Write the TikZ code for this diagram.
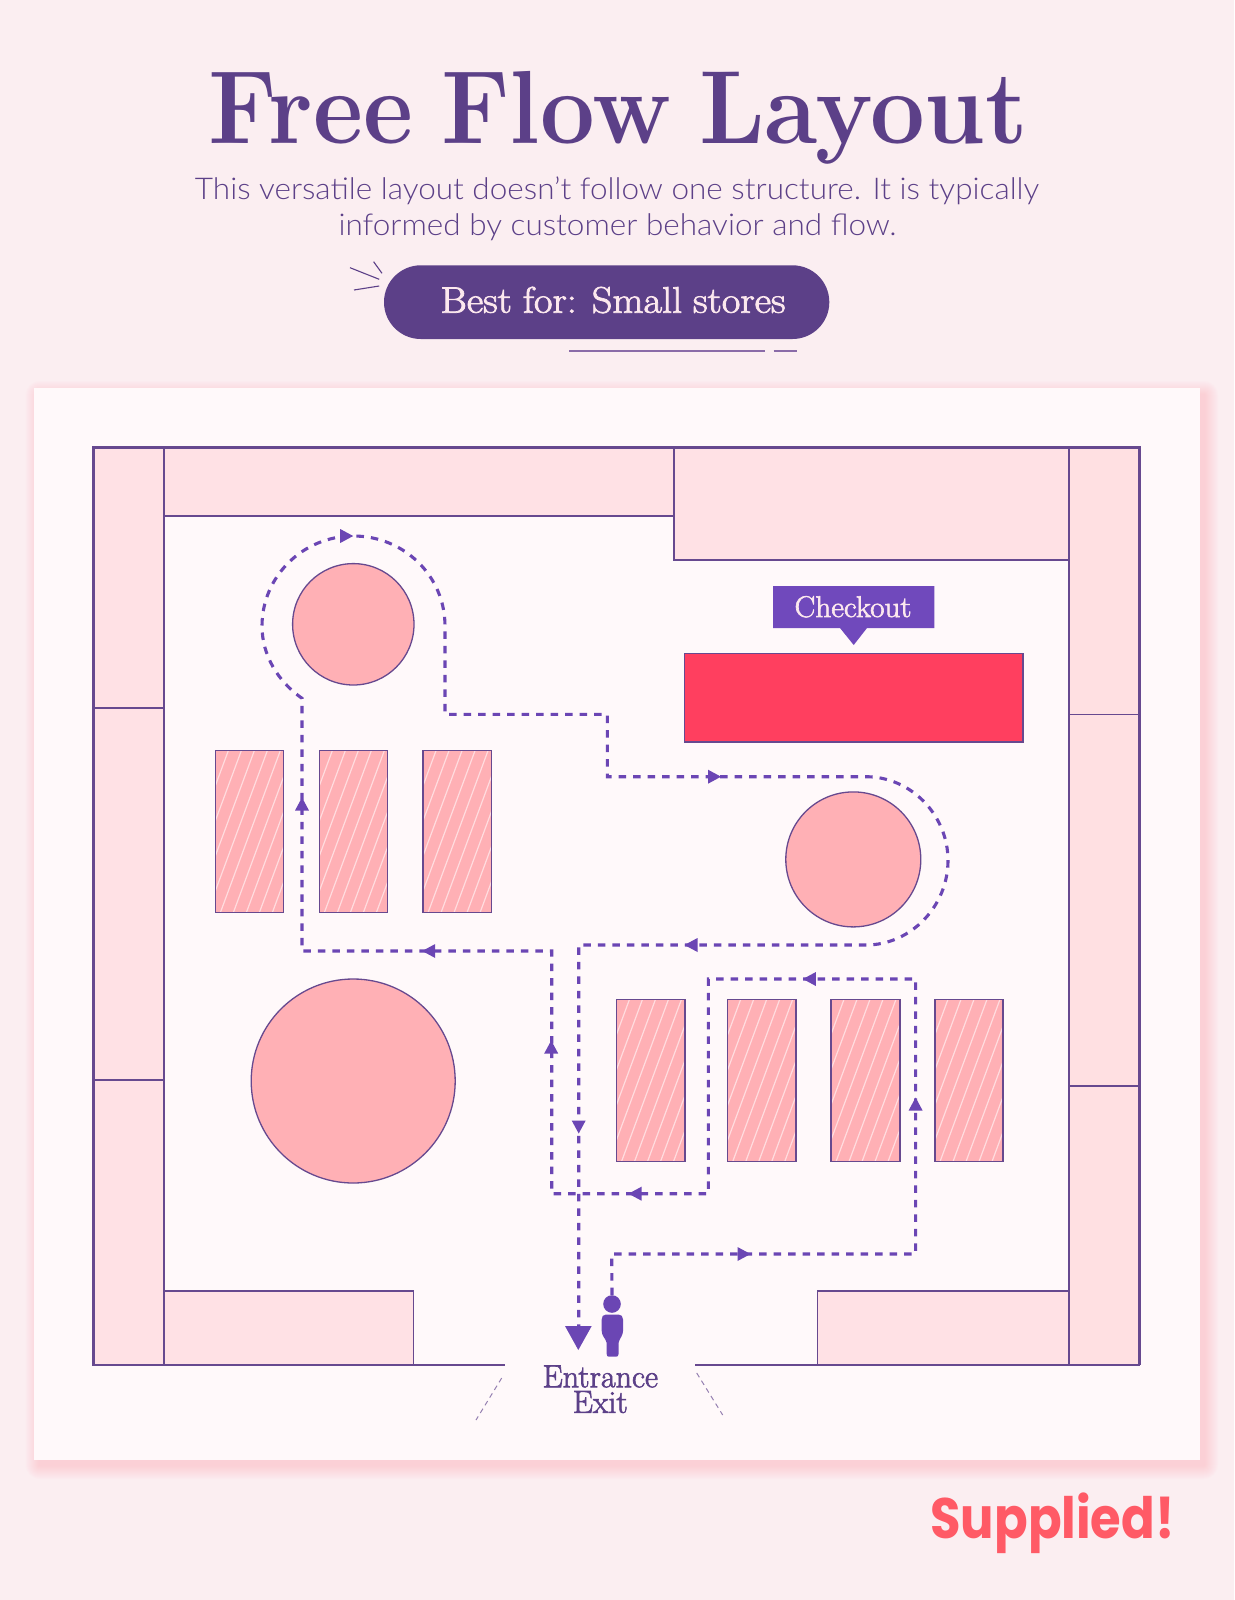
\documentclass[tikz,border=0pt]{standalone}
\usepackage{fontspec}
\usetikzlibrary{calc}
\setsansfont{Lato Light}
\newfontfamily\logofont{Poppins Bold}
\newfontfamily\midf{Latin Modern Roman}[FakeBold=2]
\definecolor{pagebg}{HTML}{FBEEF1}
\definecolor{cardbg}{HTML}{FFF9FA}
\definecolor{glow}{HTML}{FFB0BC}
\definecolor{shelf}{HTML}{FFE1E5}
\definecolor{shelfr}{HTML}{FFE0E2}
\definecolor{disc}{HTML}{FFB0B5}
\definecolor{hatch}{HTML}{FFDCDF}
\definecolor{ink}{HTML}{5C4088}
\definecolor{planink}{HTML}{67498F}
\definecolor{flow}{HTML}{6B46B4}
\definecolor{tag}{HTML}{7049BC}
\definecolor{till}{HTML}{FF3F5F}
\definecolor{logored}{HTML}{FF5A66}
\definecolor{pale}{HTML}{FCE8EE}
\definecolor{rule}{HTML}{8A6BA8}
\tikzset{
  x=1pt,y=-1pt,
  planline/.style={draw=planink,line width=1.3pt},
  shelfbox/.style={planline,fill=shelf},
  shelfboxr/.style={planline,fill=shelfr},
  discbox/.style={circle,draw=planink,line width=1.3pt,fill=disc,inner sep=0pt},
  route/.style={draw=flow,line width=3.1pt,dash pattern=on 7.5pt off 7pt},
  txt/.style={inner sep=0pt,anchor=base,text=ink},
}
\newcommand\rackbox[4]{%
  \begin{scope}
    \clip (#1,#2) rectangle (#3,#4);
    \fill[disc] (#1,#2) rectangle (#3,#4);
    \foreach \s in {-60,-47,...,68}
      \draw[hatch,line width=1.2pt] ({#1+\s},#4) -- ({#1+\s+60},#2);
  \end{scope}
  \draw[planline] (#1,#2) rectangle (#3,#4);}
\newcommand\flowtip[3]{%
  \fill[flow,shift={(#1,#2)},rotate=#3] (6.5,0) -- (-6.5,-7) -- (-6.5,7) -- cycle;}
\begin{document}
\begin{tikzpicture}
\useasboundingbox (0,0) rectangle (1234,1600);
\fill[pagebg] (0,0) rectangle (1234,1600);
% heading
\node[txt] (title) at (618.5,143.3) {\fontsize{104}{104}\selectfont\bfseries\spaceskip=0.29em\scalebox{0.935}[1]{Free Flow Layout}};
\node[txt] (sub1) at (617,199) {\fontsize{30}{30}\selectfont\sffamily\scalebox{1.05}[1]{This versatile layout doesn’t follow one structure. It is typically}};
\node[txt] (sub2) at (617.5,235) {\fontsize{30}{30}\selectfont\sffamily\scalebox{1.05}[1]{informed by customer behavior and flow.}};
\fill[ink,rounded corners=36.8pt] (384,265.3) rectangle (829.3,339);
\node[txt,text=pale] (best) at (613,312.7) {\fontsize{37}{37}\selectfont\midf\spaceskip=0.27em\scalebox{1.09}[1]{Best for: Small stores}};
\draw[ink,line width=1.1pt] (350,267.7) -- (379.2,279.3) (373.6,261.7) -- (382,273.3) (354,290) -- (379.2,286);
\draw[rule,line width=2pt] (569,350.7) -- (765,350.7) (773.7,350.7) -- (797.3,350.7);
% card with glow
\foreach \g in {1,...,14}
  \fill[glow,opacity=0.035,rounded corners=\g pt] ({33.7-\g+6},{388-\g+7}) rectangle ({1200+\g+4},{1460+\g+5});
\fill[cardbg] (33.7,388) rectangle (1200,1460);
% wall units
\draw[shelfbox] (93,447) rectangle (164,708);
\draw[shelfbox] (93,708) rectangle (164,1080);
\draw[shelfbox] (93,1080) rectangle (164,1365);
\draw[shelfbox] (164,447) rectangle (674,516);
\draw[shelfbox] (674,447) rectangle (1069,560);
\draw[shelfboxr] (1069,447) rectangle (1139,714.5);
\draw[shelfboxr] (1069,714.5) rectangle (1139,1086);
\draw[shelfboxr] (1069,1086) rectangle (1139,1365);
\draw[shelfbox] (164,1291) rectangle (413.5,1365);
\draw[shelfbox] (817.5,1291) rectangle (1069,1365);
% room outline
\draw[planink,line width=3pt] (1139,1365) -- (1139,447) -- (93,447) -- (93,1365);
\draw[planline] (93,1365) -- (505,1365) (695,1365) -- (1139,1365);
\draw[planink!70,line width=1pt,dash pattern=on 5pt off 4pt] (501.7,1378) -- (476,1420) (696.7,1373) -- (722.7,1415);
% fixtures
\node[discbox,minimum size=121.4pt] (disc1) at (353.3,624.3) {};
\node[discbox,minimum size=135pt] (disc2) at (853.3,859.4) {};
\node[discbox,minimum size=204pt] (disc3) at (353.2,1081) {};
\rackbox{215.3}{750.7}{283.3}{912.7}
\rackbox{319.3}{750.7}{387.3}{912.7}
\rackbox{423}{750.7}{491.3}{912.7}
\rackbox{616.5}{999.3}{685}{1161.6}
\rackbox{727.7}{999.3}{796}{1161.6}
\rackbox{831}{999.3}{900}{1161.6}
\rackbox{935}{999.3}{1003}{1161.6}
\draw[planline,fill=till] (684.7,653.3) rectangle (1023,742);
% checkout tag
\fill[tag] (773,586) -- (934.3,586) -- (934.3,628) -- (867,628) -- (853.7,645) -- (840,628) -- (773,628) -- cycle;
\node[txt,text=pale] (checkout) at (853,617) {\fontsize{30}{30}\selectfont\midf\scalebox{1.04}[1]{Checkout}};
% person
\node[circle,fill=flow,inner sep=0pt,minimum size=17.6pt] (head) at (612,1304) {};
\fill[flow] (606,1314.5) -- (618.5,1314.5) .. controls (621.5,1314.5) and (623,1316.5) .. (623,1319.5) -- (623,1331) .. controls (623,1336) and (619.5,1338) .. (618.5,1343) -- (618.5,1354) .. controls (618.5,1356) and (617.5,1356.7) .. (616,1356.7) -- (609,1356.7) .. controls (607.5,1356.7) and (606.7,1356) .. (606.7,1354) -- (606.7,1343) .. controls (605.5,1338) and (601.7,1336) .. (601.7,1331) -- (601.7,1319.5) .. controls (601.7,1316.5) and (603,1314.5) .. (606,1314.5) -- cycle;
% route corners
\coordinate (a1) at (611.7,1254);
\coordinate (a2) at (915.6,1254);
\coordinate (a3) at (915.6,979);
\coordinate (a4) at (708.4,979);
\coordinate (a5) at (708.4,1193.7);
\coordinate (a6) at (551.7,1193.7);
\coordinate (a7) at (551.7,951);
\coordinate (a8) at (302,951);
\coordinate (a9) at (302,698.3);
\coordinate (aL) at (262,626);
\coordinate (aT) at (353.5,536);
\coordinate (aR) at (445,626);
\coordinate (a10) at (445,714.3);
\coordinate (a11) at (607.3,714.3);
\coordinate (a12) at (607.3,776.7);
\coordinate (bT) at (866,776.7);
\coordinate (bR) at (948,860.5);
\coordinate (bB) at (866,945);
\coordinate (a13) at (578.7,945);
\coordinate (a14) at (578.7,1326);
\draw[route] (head.north) -- (a1) -- (a2) -- (a3) -- (a4) -- (a5) -- (a6) -- (a7) -- (a8) -- (a9)
  .. controls (277.7,681.3) and (262,655) .. (aL)
  .. controls (262,576.3) and (303,536) .. (aT)
  .. controls (404,536) and (445,576) .. (aR)
  -- (a10) -- (a11) -- (a12) -- (bT)
  .. controls (911,776.7) and (948,815) .. (bR)
  .. controls (948,906) and (911,945) .. (bB)
  -- (a13) -- (a14);
\flowtip{346.7}{536}{0}
\flowtip{714.5}{776.7}{0}
\flowtip{691}{945}{180}
\flowtip{302}{804}{90}
\flowtip{428.7}{951}{180}
\flowtip{551.2}{1047}{90}
\flowtip{578.7}{1127}{270}
\flowtip{635}{1193.7}{180}
\flowtip{744}{1254}{0}
\flowtip{915.6}{1104}{90}
\flowtip{809.4}{979}{180}
\fill[flow] (565,1326) -- (591.7,1326) -- (578.3,1350) -- cycle;
% labels
\node[inner sep=0pt,text=ink,align=center,anchor=south,font=\fontsize{32}{25.6}\selectfont\midf] (doorway) at (600.3,1413.3) {Entrance\\Exit};
\node[txt,text=logored] (logo) at (1052.5,1538) {\fontsize{57}{57}\selectfont\logofont\scalebox{0.87}[1]{Supplied!}};
\end{tikzpicture}
\end{document}
